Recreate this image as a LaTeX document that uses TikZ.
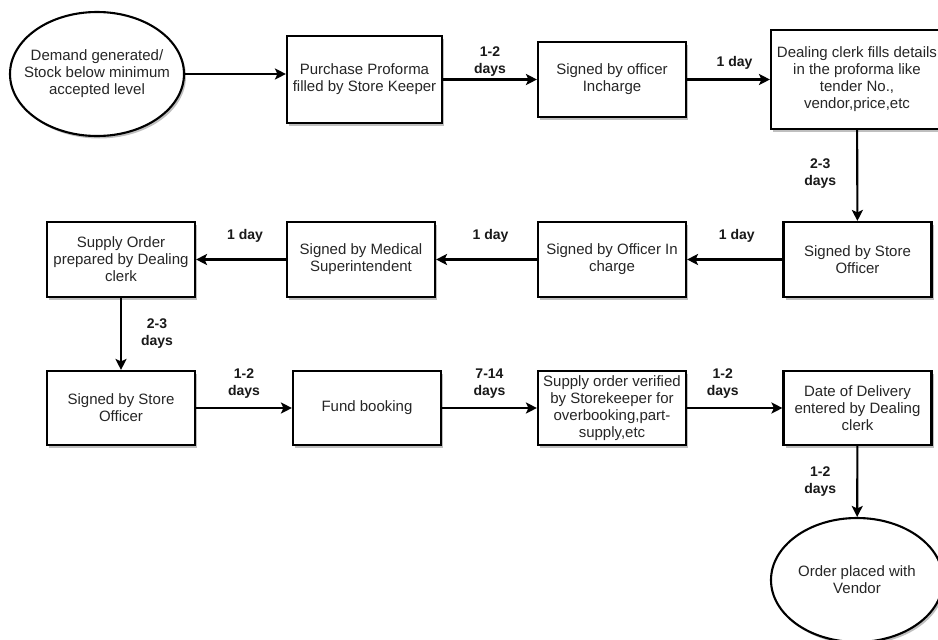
\documentclass[tikz,border=0pt]{standalone}
\usepackage{fontspec}
\setmainfont{Liberation Sans}
\usetikzlibrary{shapes.geometric,arrows.meta,shadows}
\begin{document}
\begin{tikzpicture}[x=1pt,y=-1pt,
  shad/.style={drop shadow={shadow xshift=2pt,shadow yshift=-2.5pt,opacity=0.25,fill=black}},
  box/.style={draw=black,line width=2.1pt,fill=white,shad,align=center,inner sep=0pt,
    minimum width=148pt,minimum height=75pt,font=\fontsize{15}{17}\selectfont,text=black!85},
  oval/.style={ellipse,draw=black,line width=2.1pt,fill=white,shad,align=center,inner ysep=0pt,inner xsep=-12pt,
    minimum width=174pt,minimum height=124pt,font=\fontsize{15}{17}\selectfont,text=black!85},
  conn/.style={line width=2.1pt,-{Stealth[length=11pt,width=11pt,inset=2.5pt]}},
  lbl/.style={font=\bfseries\fontsize{14}{17}\selectfont,align=center,inner sep=0pt,text=black!90}]
\useasboundingbox (0,0) rectangle (938,640);
\fill[white] (0,0) rectangle (938,640);
% row 1
\node[oval] (e1) at (97,74) {Demand generated/\\Stock below minimum\\accepted level};
\node[box,minimum width=155pt,minimum height=87pt] (b1) at (364.5,79.5) {Purchase Proforma\\filled by Store Keeper};
\node[box] (b2) at (612,79.5) {Signed by officer\\Incharge};
\node[box,minimum width=172pt,minimum height=99pt] (b3) at (857,79.5) {Dealing clerk fills details\\in the proforma like\\tender No.,\\vendor,price,etc};
% row 2
\node[box] (b4) at (857.5,259.5) {Signed by Store\\Officer};
\node[box] (b5) at (612,259.5) {Signed by Officer In\\charge};
\node[box] (b6) at (361,259.5) {Signed by Medical\\Superintendent};
\node[box] (b7) at (121,259.5) {Supply Order\\prepared by Dealing\\clerk};
% row 3
\node[box,minimum height=74pt] (b8) at (121,408) {Signed by Store\\Officer};
\node[box,minimum height=74pt] (b9) at (367,408) {Fund booking};
\node[box,minimum height=74pt] (b10) at (612,408) {Supply order verified\\by Storekeeper for\\overbooking,part-\\supply,etc};
\node[box,minimum height=74pt] (b11) at (857.5,408) {Date of Delivery\\entered by Dealing\\clerk};
\node[oval,minimum width=172pt] (e2) at (857,580) {Order placed with\\Vendor};
% connectors
\draw[conn] (e1.east) -- (e1.east -| b1.west);
\draw[conn] (b1) -- node[lbl,yshift=18pt] {1-2\\days} (b2);
\draw[conn] (b2) -- node[lbl,yshift=17pt,xshift=6pt] {1 day} (b3.west |- b2);
\draw[conn] (b3) -- node[lbl,xshift=-37pt,yshift=2pt] {2-3\\days} (b4);
\draw[conn] (b4) -- node[lbl,yshift=24pt,xshift=2pt] {1 day} (b5);
\draw[conn] (b5) -- node[lbl,yshift=24pt,xshift=4pt] {1 day} (b6);
\draw[conn] (b6) -- node[lbl,yshift=24pt,xshift=4pt] {1 day} (b7);
\draw[conn] (b7) -- node[lbl,xshift=36pt] {2-3\\days} (b8);
\draw[conn] (b8) -- node[lbl,yshift=24.5pt] {1-2\\days} (b9);
\draw[conn] (b9) -- node[lbl,yshift=24.5pt] {7-14\\days} (b10);
\draw[conn] (b10) -- node[lbl,yshift=24.5pt,xshift=-12pt] {1-2\\days} (b11);
\draw[conn] (b11) -- node[lbl,xshift=-37pt] {1-2\\days} (e2);
\end{tikzpicture}
\end{document}
